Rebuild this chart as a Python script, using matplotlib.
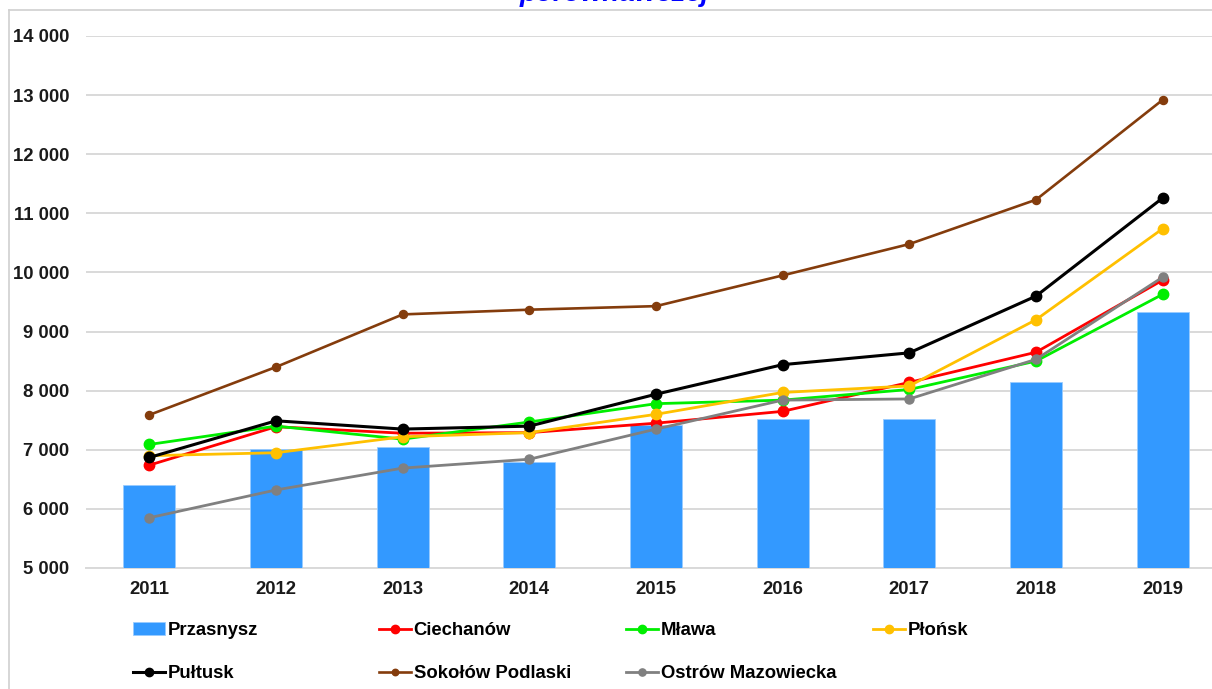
import matplotlib
matplotlib.use("Agg")
import matplotlib.pyplot as plt
from matplotlib.lines import Line2D
import numpy as np

plt.rcParams["font.family"] = ["Liberation Sans", "DejaVu Sans"]
plt.rcParams["font.weight"] = "bold"

years = ["2011", "2012", "2013", "2014", "2015", "2016", "2017", "2018", "2019"]

przasnysz = [6400, 7020, 7040, 6790, 7420, 7520, 7520, 8140, 9330]
ciechanow = [6740, 7390, 7280, 7290, 7450, 7650, 8140, 8650, 9870]
mlawa = [7090, 7400, 7180, 7470, 7780, 7840, 8020, 8500, 9630]
plonsk = [6900, 6950, 7220, 7290, 7600, 7970, 8080, 9200, 10740]
pultusk = [6870, 7490, 7350, 7400, 7940, 8440, 8640, 9600, 11260]
sokolow = [7590, 8400, 9290, 9370, 9430, 9950, 10480, 11230, 12920]
ostrow = [5850, 6320, 6690, 6840, 7350, 7840, 7860, 8530, 9920]

W, H = 1212, 689
fig = plt.figure(figsize=(W / 100, H / 100), dpi=100)
ax = fig.add_axes([86 / W, (H - 568) / H, 1140 / W, (568 - 36) / H])

x = np.arange(len(years))
bars = ax.bar(x, przasnysz, width=0.41, bottom=0, color="#3399FF",
              edgecolor="#99CCFF", linewidth=0.6, zorder=2, label="Przasnysz")

series = [
    ("Ciechanów", ciechanow, "#FF0000", 2.0, 7.5),
    ("Mława", mlawa, "#00EE00", 2.0, 7.5),
    ("Płońsk", plonsk, "#FFC000", 2.0, 7.5),
    ("Pułtusk", pultusk, "#000000", 2.2, 7.5),
    ("Sokołów Podlaski", sokolow, "#843C0C", 1.9, 5.8),
    ("Ostrów Mazowiecka", ostrow, "#808080", 2.0, 6.5),
]
lines = {}
for name, vals, col, lw, ms in series:
    (ln,) = ax.plot(x, vals, color=col, lw=lw, marker="o", ms=ms,
                    zorder=3, label=name)
    lines[name] = ln

ax.set_xlim(-0.5, 8.5)
ax.set_ylim(5000, 14000)
ax.set_yticks(np.arange(5000, 14001, 1000))
ax.set_yticklabels([f"{v:,}".replace(",", " ") for v in range(5000, 14001, 1000)])
ax.set_xticks(x)
ax.set_xticklabels(years)
ax.tick_params(axis="both", length=0, labelsize=13.3, colors="#1A1A1A")
ax.tick_params(axis="y", pad=12)
ax.tick_params(axis="x", pad=9.5)
ax.grid(axis="y", color="#D9D9D9", lw=1.4, zorder=0)
ax.set_axisbelow(True)
for s in ["top", "right", "left"]:
    ax.spines[s].set_visible(False)
ax.spines["bottom"].set_color("#D9D9D9")
ax.spines["bottom"].set_linewidth(1.4)
ax.spines["bottom"].set_zorder(1)

# chart area frame, cut by the crop at the right and bottom
fig.add_artist(Line2D([9 / W, 1], [1 - 9.5 / H, 1 - 9.5 / H], color="#D0D0D0", lw=1.2))
fig.add_artist(Line2D([9 / W, 9 / W], [0, 1 - 9.5 / H], color="#D0D0D0", lw=1.2))

# title, mostly cropped off above the frame
fig.text(614 / W, 1 - 1.0 / H, "porównawczej", color="#0000FF", fontsize=20,
         fontweight="bold", fontstyle="italic", ha="center", va="baseline")

columns = [
    ["Przasnysz", "Pułtusk"],
    ["Ciechanów", "Sokołów Podlaski"],
    ["Mława", "Ostrów Mazowiecka"],
    ["Płońsk"],
]
col_x = [133, 379, 626, 873]
handles = {"Przasnysz": bars}
handles.update(lines)
for cx, names in zip(col_x, columns):
    fig.legend([handles[n] for n in names], names, loc="upper left",
               bbox_to_anchor=(cx / W, (H - 622) / H), frameon=False,
               borderpad=0, borderaxespad=0, handlelength=1.72,
               handletextpad=0.16, labelspacing=1.42, markerscale=0.8,
               prop={"size": 13.3, "weight": "bold"})

fig.savefig("out.png", dpi=100)
